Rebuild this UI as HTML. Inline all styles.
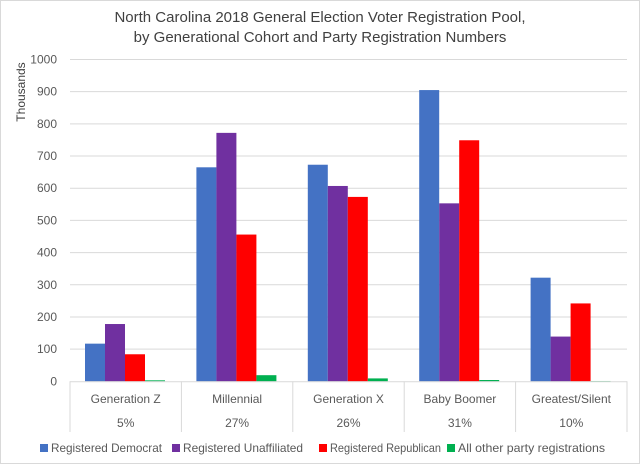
<!DOCTYPE html>
<html><head><meta charset="utf-8"><style>
body{margin:0;background:#fff;}
svg{display:block;font-family:"Liberation Sans",sans-serif;}
</style></head><body>
<svg id="c" width="640" height="464">
<rect x="0.5" y="0.5" width="639" height="463" fill="#fff" stroke="#d9d9d9"/>
<text x="320" y="22" text-anchor="middle" font-size="15" fill="#404040">North Carolina 2018 General Election Voter Registration Pool,</text>
<text x="320" y="42" text-anchor="middle" font-size="15" fill="#404040">by Generational Cohort and Party Registration Numbers</text>
<text transform="translate(25,92) rotate(-90)" text-anchor="middle" font-size="12" fill="#404040">Thousands</text>
<g id="grid"></g><g id="bars"></g><g id="xaxis"></g><g id="legend"></g>
</svg>
<script>
const categories=["Generation Z","Millennial","Generation X","Baby Boomer","Greatest/Silent"];
const shares=["5%","27%","26%","31%","10%"];
const seriesNames=["Registered Democrat","Registered Unaffiliated","Registered Republican","All other party registrations"];
const democrat=[117,665,673,905,322];
const unaffiliated=[178,772,607,553,139];
const republican=[84,456,573,749,242];
const other=[3,19,9,4,1];
const yTicks=[0,100,200,300,400,500,600,700,800,900,1000];
const colors=["#4472c4","#7030a0","#ff0000","#00b050"];
const series=[democrat,unaffiliated,republican,other];
const NS="http://www.w3.org/2000/svg";
const L=70,R=627,T=59.5,B=381.3,YMAX=1000;
const y=v=>B-(v/YMAX)*(B-T);
const cw=(R-L)/categories.length;
const x=i=>L+i*cw;
function mk(tag,attrs,parent,txt){const e=document.createElementNS(NS,tag);for(const k in attrs)e.setAttribute(k,attrs[k]);if(txt!==undefined)e.textContent=txt;parent.appendChild(e);return e;}
const grid=document.getElementById('grid');
yTicks.forEach(t=>{
  if(t>0){const l=mk('line',{x1:L,x2:R,y1:y(t),y2:y(t),stroke:'#d9d9d9','stroke-width':1},grid);
  
  }
  const tx=mk('text',{x:57,y:y(t)+4,'text-anchor':'end','font-size':12,fill:'#595959'},grid,String(t));
  
  
});
const bars=document.getElementById('bars');
const bw=20,off=15;
categories.forEach((c,i)=>{
  series.forEach((s,j)=>{
    const r=mk('rect',{x:x(i)+off+j*bw,y:y(s[i]),width:bw,height:B-y(s[i]),fill:colors[j]},bars);
    
    
  });
});
const xa=document.getElementById('xaxis');
const ax=mk('line',{x1:L,x2:R,y1:B+0.5,y2:B+0.5,stroke:'#d9d9d9'},xa);


for(let i=0;i<=categories.length;i++){
  const d=mk('line',{x1:x(i),x2:x(i),y1:B,y2:432,stroke:'#d9d9d9'},xa);
  
  
}
categories.forEach((c,i)=>{
  const t=mk('text',{x:x(i)+cw/2,y:403,'text-anchor':'middle','font-size':12,fill:'#595959'},xa,c);
  
  
  const p=mk('text',{x:x(i)+cw/2,y:427,'text-anchor':'middle','font-size':12,fill:'#595959'},xa,shares[i]);
  
  
});
const lg=document.getElementById('legend');
const lx=[40,172,319,447];
const lw=[111,120,111,147];
seriesNames.forEach((n,j)=>{
  const r=mk('rect',{x:lx[j],y:444,width:8,height:8,fill:colors[j]},lg);
  
  
  const t=mk('text',{x:lx[j]+11,y:452,'font-size':12,fill:'#595959',textLength:lw[j],lengthAdjust:'spacingAndGlyphs'},lg,n);
  
  
});
</script>
</body></html>
